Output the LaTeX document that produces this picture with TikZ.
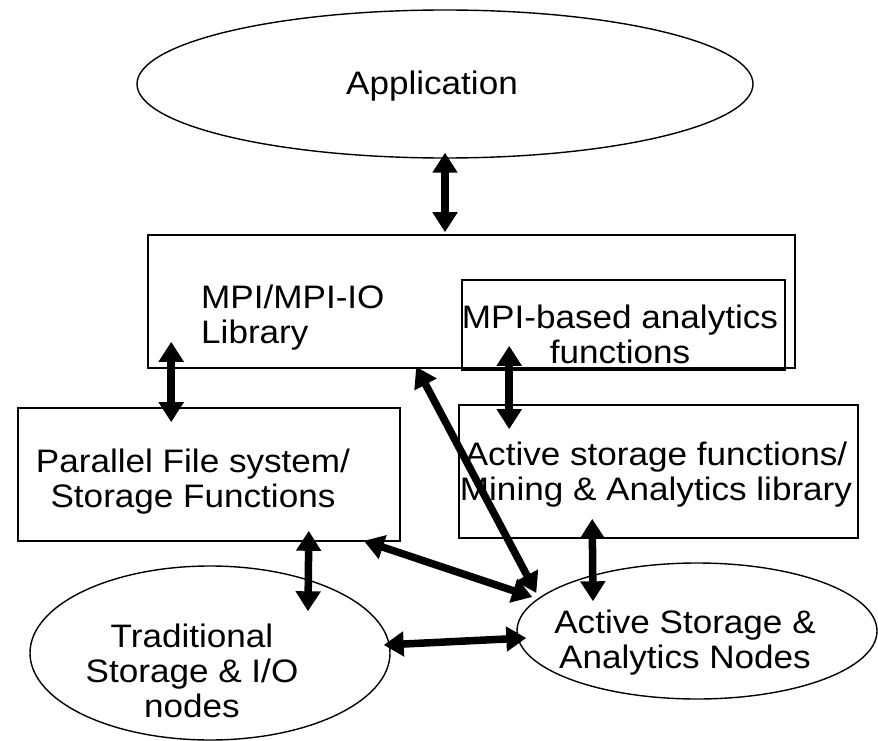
\documentclass[tikz,border=0pt]{standalone}
\usepackage{fontspec}
\setmainfont{Liberation Sans}[FakeStretch=1.08]
\usetikzlibrary{shapes.geometric,arrows.meta,calc}
\begin{document}
\begin{tikzpicture}[x=1pt,y=-1pt,
  box/.style={draw,line width=1.6pt,inner sep=0pt,rectangle},
  oval/.style={draw,line width=1.4pt,inner sep=0pt,ellipse},
  lbl/.style={inner sep=0pt,font=\fontsize{32.5}{35}\selectfont},
  biarrow/.style={line width=7.5pt,{Triangle[width=24pt,length=20pt]}-{Triangle[width=24pt,length=20pt]}}]
\useasboundingbox (0,0) rectangle (878,741);
% shapes
\node[oval,minimum width=616pt,minimum height=148pt] (app) at (445,84) {};
\node[box,minimum width=647pt,minimum height=133pt] (mpi) at (471.5,301.5) {};
\node[box,minimum width=323pt,minimum height=90pt] (mpib) at (623.5,325) {};
\node[box,minimum width=382pt,minimum height=133pt] (par) at (209,474.5) {};
\node[box,minimum width=399pt,minimum height=133pt] (act) at (658.5,471.5) {};
\node[oval,minimum width=360pt,minimum height=174pt] (trad) at (210,653) {};
\node[oval,minimum width=360pt,minimum height=136pt] (asn) at (697,631) {};
% texts
\node[lbl,anchor=north] (appT) at (432,69) {\rule{0pt}{25pt}Application};
\node[lbl,anchor=north west,align=left] (mpiT) at (201,283) {\rule{0pt}{25pt}MPI/MPI-IO\\Library};
\node[lbl,anchor=north,align=center] (mpibT) at (620,303) {\rule{0pt}{25pt}MPI-based analytics\\functions};
\node[lbl,anchor=north,align=center] (actT) at (656,440) {\rule{0pt}{25pt}Active storage functions/\\Mining \& Analytics library};
\node[lbl,anchor=north,align=center] (parT) at (193,447) {\rule{0pt}{25pt}Parallel File system/\\Storage Functions};
\node[lbl,anchor=north,align=center] (tradT) at (192,622) {\rule{0pt}{25pt}Traditional\\Storage \& I/O\\nodes};
\node[lbl,anchor=north,align=center] (asnT) at (685,608) {\rule{0pt}{25pt}Active Storage \&\\Analytics Nodes};
% connectors
\draw[biarrow] ($(app.south)+(0,-6)$) -- ($(app.south |- mpi.north)+(0,-2)$);
\draw[biarrow] ($(mpi.south west)+(24,-27)$) -- ($(par.north west)+(154,15)$);
\draw[biarrow] ($(mpib.south west)+(48,-25)$) -- ($(act.north west)+(51,25)$);
\draw[biarrow] ($(act.south west)+(134,-20)$) -- ($(asn.north)+(-104,39)$);
\draw[biarrow] ($(par.south east)+(-92,-11)$) -- ($(trad.north)+(98,46)$);
\draw[biarrow] ($(mpi.south west)+(269,-2)$) -- ($(asn.west)+(20,-38)$);
\draw[biarrow] ($(par.south east)+(-37,-1)$) -- ($(asn.west)+(16,-34)$);
\draw[biarrow] ($(trad.east)+(-7,-8)$) -- ($(asn.west)+(10,7)$);
\end{tikzpicture}
\end{document}
